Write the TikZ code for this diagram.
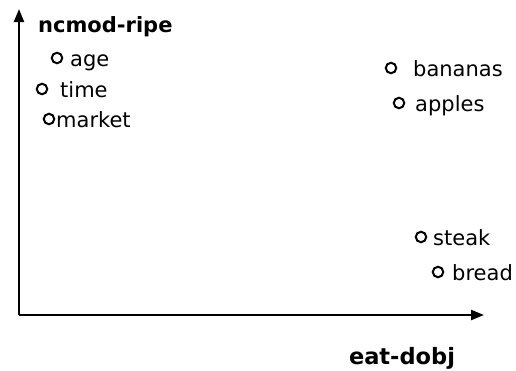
\documentclass[tikz,border=0pt]{standalone}
\usepackage{fontspec}
\setmainfont{DejaVu Sans}
\usetikzlibrary{arrows.meta}
\begin{document}
\begin{tikzpicture}[x=1pt,y=-1pt,
  axis/.style={line width=2.2pt,-{Triangle[length=13pt,width=10pt]}},
  pt/.style={circle,draw,line width=2pt,minimum size=10.5pt,inner sep=0pt},
  lbl/.style={anchor=base west,inner sep=0pt,font=\fontsize{21}{24}\selectfont},
  axlbl/.style={inner sep=0pt,font=\bfseries\fontsize{21}{24}\selectfont}]
\useasboundingbox (0,0) rectangle (516,370);
\coordinate (o) at (19,315);
\coordinate (ytop) at (19,9);
\coordinate (xend) at (484,315);
\draw[axis] (o) -- (ytop);
\draw[axis] (o) -- (xend);
\node[axlbl,anchor=base west] (ylab) at (38,32) {ncmod-ripe};
\node[axlbl,anchor=base,font=\bfseries\fontsize{22.5}{26}\selectfont] (xlab) at (402,364) {eat-dobj};
\node[pt] (c1) at (57,58) {};
\node[lbl] (t1) at (70,66) {age};
\node[pt] (c2) at (42,89) {};
\node[lbl] (t2) at (60,97) {time};
\node[pt] (c3) at (49,119) {};
\node[lbl] (t3) at (56,127) {market};
\node[pt] (c4) at (391,68) {};
\node[lbl] (t4) at (413,76) {bananas};
\node[pt] (c5) at (399,103) {};
\node[lbl] (t5) at (415,111) {apples};
\node[pt] (c6) at (421,237) {};
\node[lbl] (t6) at (433,245) {steak};
\node[pt] (c7) at (438,272) {};
\node[lbl] (t7) at (452,280) {bread};
\end{tikzpicture}
\end{document}
